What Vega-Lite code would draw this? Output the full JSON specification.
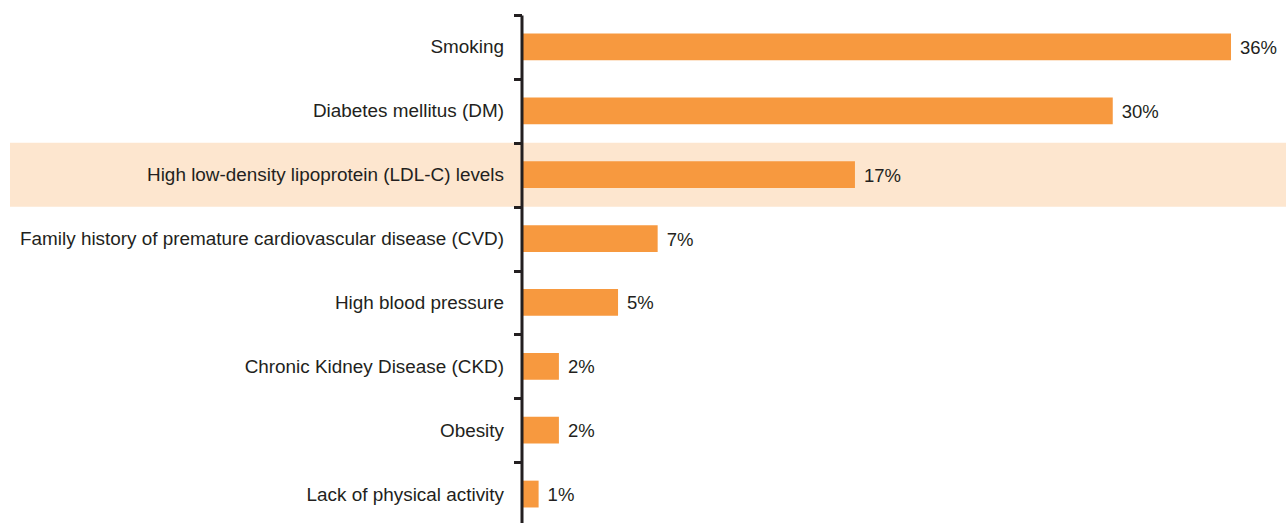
{
  "$schema": "https://vega.github.io/schema/vega-lite/v6.json",
  "width": 1276,
  "height": 511,
  "autosize": {"type": "none"},
  "padding": {"left": 10, "top": 15, "right": 0, "bottom": 0},
  "background": "#ffffff",
  "config": {"view": {"stroke": null}, "font": "Liberation Sans"},
  "data": {
    "values": [
      {"factor": "Smoking", "value": 36.0, "label": "36%", "highlight": false},
      {"factor": "Diabetes mellitus (DM)", "value": 30.0, "label": "30%", "highlight": false},
      {"factor": "High low-density lipoprotein (LDL-C) levels", "value": 16.92, "label": "17%", "highlight": true},
      {"factor": "Family history of premature cardiovascular disease (CVD)", "value": 6.91, "label": "7%", "highlight": false},
      {"factor": "High blood pressure", "value": 4.9, "label": "5%", "highlight": false},
      {"factor": "Chronic Kidney Disease (CKD)", "value": 1.9, "label": "2%", "highlight": false},
      {"factor": "Obesity", "value": 1.9, "label": "2%", "highlight": false},
      {"factor": "Lack of physical activity", "value": 0.87, "label": "1%", "highlight": false}
    ]
  },
  "encoding": {
    "y": {
      "field": "factor",
      "type": "nominal",
      "sort": null,
      "scale": {
        "padding": 0,
        "domain": [
          "Smoking",
          "Diabetes mellitus (DM)",
          "High low-density lipoprotein (LDL-C) levels",
          "Family history of premature cardiovascular disease (CVD)",
          "High blood pressure",
          "Chronic Kidney Disease (CKD)",
          "Obesity",
          "Lack of physical activity"
        ]
      },
      "axis": {
        "title": null,
        "offset": -511.5,
        "zindex": 1,
        "labelFont": "Liberation Sans",
        "labelFontSize": 18.9,
        "labelColor": "#231F20",
        "labelPadding": 10,
        "labelLimit": 0,
        "domainColor": "#231F20",
        "domainWidth": 3,
        "tickColor": "#231F20",
        "tickWidth": 3,
        "tickSize": 8,
        "tickBand": "extent"
      }
    }
  },
  "layer": [
    {
      "transform": [{"filter": "datum.highlight"}],
      "mark": {"type": "rect", "color": "#FDE6CF"},
      "encoding": {}
    },
    {
      "mark": {"type": "bar", "color": "#F7993F", "height": {"band": 0.42}},
      "encoding": {
        "x": {
          "field": "value",
          "type": "quantitative",
          "scale": {"domain": [-25.95, 38.79], "nice": false, "zero": false},
          "axis": null
        }
      }
    },
    {
      "mark": {"type": "text", "align": "left", "baseline": "middle", "dx": 9, "dy": 1, "fontSize": 18.5, "font": "Liberation Sans", "color": "#231F20"},
      "encoding": {
        "x": {"field": "value", "type": "quantitative"},
        "text": {"field": "label"}
      }
    }
  ]
}
